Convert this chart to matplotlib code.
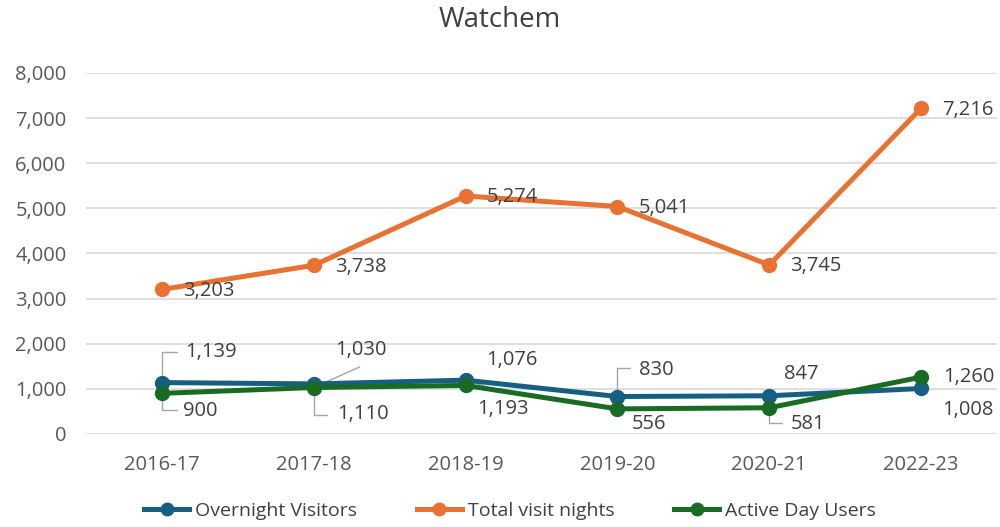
import matplotlib
matplotlib.use("Agg")
import matplotlib.pyplot as plt
from matplotlib.lines import Line2D

categories = ["2016-17", "2017-18", "2018-19", "2019-20", "2020-21", "2022-23"]
overnight = [1139, 1110, 1193, 830, 847, 1008]
total_nights = [3203, 3738, 5274, 5041, 3745, 7216]
active_day = [900, 1030, 1076, 556, 581, 1260]
series_names = ["Overnight Visitors", "Total visit nights", "Active Day Users"]
yticks = [0, 1000, 2000, 3000, 4000, 5000, 6000, 7000, 8000]

BLUE = "#156082"
ORANGE = "#E97132"
GREEN = "#196B24"
TXT = "#404040"
TICK = "#595959"
LEAD = "#A6A6A6"

plt.rcParams['font.family'] = ['Open Sans', 'DejaVu Sans']

fig = plt.figure(figsize=(10, 5.27), dpi=100)
ax = fig.add_axes([0.086, 0.1765, 0.911, 0.685])
x = list(range(len(categories)))

ax.plot(x, total_nights, color=ORANGE, lw=3.6, marker="o", ms=10, zorder=3)
ax.plot(x, active_day, color=GREEN, lw=3.6, marker="o", ms=10, zorder=4)
ax.plot(x, overnight, color=BLUE, lw=3.6, marker="o", ms=10, zorder=3)

ax.set_xlim(-0.5, len(categories) - 0.5)
ax.set_ylim(0, 8000)
ax.set_yticks(yticks)
ax.set_yticklabels([f"{v:,}" for v in yticks])
ax.set_xticks(x)
ax.set_xticklabels(categories)
ax.grid(axis="y", color="#D9D9D9", lw=1.2, zorder=0)
ax.set_axisbelow(True)
for s in ax.spines.values():
    s.set_visible(False)
ax.tick_params(axis="both", length=0, labelsize=14.5, labelcolor=TICK)
ax.tick_params(axis="x", pad=15)
ax.tick_params(axis="y", pad=14)

fs = 14.5

def lab(i, v, dx, dy):
    ax.annotate(f"{v:,}", xy=(i, v), xytext=(dx, dy), textcoords="offset points",
                fontsize=fs, color=TXT, ha="left", va="center", zorder=6)

def elbow(i, v, dx, dy):
    ax.annotate("", xy=(i, v), xytext=(dx, dy), textcoords="offset points",
                arrowprops=dict(arrowstyle="-", color=LEAD, lw=1.0,
                                connectionstyle="angle,angleA=0,angleB=90,rad=0",
                                shrinkA=0, shrinkB=0), zorder=2)

def diag(i, v, dx, dy):
    ax.annotate("", xy=(i, v), xytext=(dx, dy), textcoords="offset points",
                arrowprops=dict(arrowstyle="-", color=LEAD, lw=1.0, shrinkA=0, shrinkB=0),
                zorder=2)

# Total visit nights labels
for i, v in enumerate(total_nights):
    lab(i, v, 15, -1)

# Overnight visitors labels
lab(0, overnight[0], 16.6, 21.7); elbow(0, overnight[0], 10.8, 22)
lab(1, overnight[1], 16.6, -22); elbow(1, overnight[1], 9.4, -22.3)
lab(2, overnight[2], 8.6, -21.1); diag(2, overnight[2], 26.6, -8.5)
lab(3, overnight[3], 15.8, 19.1); elbow(3, overnight[3], 9.4, 20.5)
lab(4, overnight[4], 10.8, 15.7)
lab(5, overnight[5], 15.1, -15.8)

# Active day users labels
lab(0, active_day[0], 15.1, -12.7); elbow(0, active_day[0], 10.8, -12)
lab(1, active_day[1], 15.1, 27); diag(1, active_day[1], 33, 14.8)
lab(2, active_day[2], 15.1, 18.3)
lab(3, active_day[3], 10.1, -10.9)
lab(4, active_day[4], 15.8, -11.7); elbow(4, active_day[4], 9.4, -10.9)
lab(5, active_day[5], 15.8, 0)

fig.text(0.5, 1 - 20 / 527, "Watchem", fontsize=20, color=TXT, ha="center", va="center")

handles = [Line2D([0], [0], color=c, lw=3.6, marker="o", ms=9) for c in (BLUE, ORANGE, GREEN)]
fig.legend(handles, series_names, loc="center", bbox_to_anchor=(0.51, 1 - 511 / 527), ncol=3,
           frameon=False, fontsize=14, labelcolor=TXT, handlelength=2.3, handletextpad=0.3,
           columnspacing=3.1, borderpad=0)

fig.savefig("out.png", dpi=100)
